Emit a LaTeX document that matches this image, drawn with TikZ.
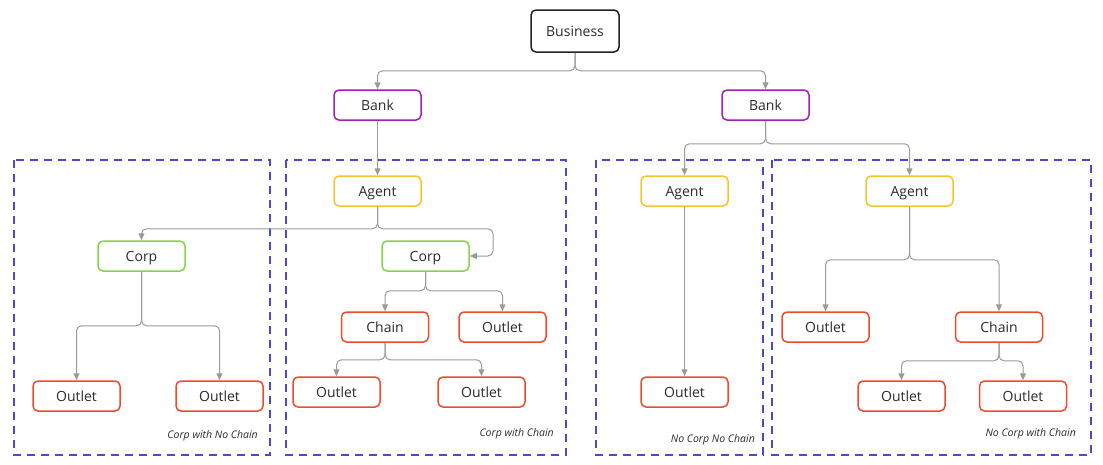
\documentclass[tikz,border=0pt]{standalone}
\usepackage{fontspec}
\setmainfont{Open Sans}
\usetikzlibrary{arrows.meta}
\definecolor{cBiz}{HTML}{222222}
\definecolor{cBank}{HTML}{A020B8}
\definecolor{cAgent}{HTML}{F5C42C}
\definecolor{cCorp}{HTML}{86D448}
\definecolor{cOut}{HTML}{EE4A2C}
\definecolor{cLine}{HTML}{9A9A9A}
\definecolor{cDash}{HTML}{4A4ACC}
\definecolor{cText}{HTML}{2A2A2A}
\tikzset{
  box/.style={draw, rounded corners=5pt, line width=1.5pt, minimum width=87pt, minimum height=30pt, inner sep=0pt, text=cText, font=\fontsize{14}{16}\selectfont, text height=10.5pt, text depth=0pt},
  bizbox/.style={box, draw=cBiz, minimum width=88pt, minimum height=42pt},
  bankbox/.style={box, draw=cBank},
  agentbox/.style={box, draw=cAgent},
  corpbox/.style={box, draw=cCorp},
  outbox/.style={box, draw=cOut},
  conn/.style={draw=cLine, line width=1pt, rounded corners=5pt, -{Triangle[length=7pt,width=6pt]}},
  group/.style={draw=cDash, line width=1.3pt, dash pattern=on 8pt off 6pt},
  grouplabel/.style={anchor=east, inner sep=0pt, text=cText, font=\itshape\fontsize{10.5}{12}\selectfont}
}
\begin{document}
\begin{tikzpicture}[x=1pt,y=-1pt]
\useasboundingbox (0,0) rectangle (1103,464);
% groups
\draw[group] (14,160) rectangle (270,455);
\draw[group] (286,160) rectangle (566,455);
\draw[group] (596,160) rectangle (763,455);
\draw[group] (772,160) rectangle (1091,455);
\node[grouplabel] (l1) at (258,436) {Corp with No Chain};
\node[grouplabel] (l2) at (554,434) {Corp with Chain};
\node[grouplabel] (l3) at (755,440) {No Corp No Chain};
\node[grouplabel] (l4) at (1076,434) {No Corp with Chain};
% nodes
\node[bizbox] (biz) at (575,31) {Business};
\node[bankbox] (bk1) at (377.5,105) {Bank};
\node[bankbox] (bk2) at (765.5,105) {Bank};
\node[agentbox] (ag2) at (377.5,191) {Agent};
\node[agentbox] (ag3) at (684.5,191) {Agent};
\node[agentbox] (ag4) at (909.5,191) {Agent};
\node[corpbox] (cp1) at (141.5,256) {Corp};
\node[corpbox] (cp2) at (425.5,256) {Corp};
\node[outbox] (o1a) at (76.5,396) {Outlet};
\node[outbox] (o1b) at (219.5,396) {Outlet};
\node[outbox] (ch2) at (385,327) {Chain};
\node[outbox] (o2a) at (502.5,327) {Outlet};
\node[outbox] (o2b) at (336.5,392) {Outlet};
\node[outbox] (o2c) at (481.5,392) {Outlet};
\node[outbox] (o3) at (684.5,392) {Outlet};
\node[outbox] (o4a) at (825.5,327) {Outlet};
\node[outbox] (ch4) at (999,327) {Chain};
\node[outbox] (o4b) at (901.5,396) {Outlet};
\node[outbox] (o4c) at (1023,396) {Outlet};
% connectors
\draw[conn] (biz.south) -- ++(0,18) -| (bk1.north);
\draw[conn] (biz.south) -- ++(0,18) -| (bk2.north);
\draw[conn] (bk1.south) -- (ag2.north);
\draw[conn] (bk2.south) -- ++(0,23) -| (ag3.north);
\draw[conn] (bk2.south) -- ++(0,23) -| (ag4.north);
\draw[conn] (ag2.south) -- ++(0,22) -| (cp1.north);
\draw[conn] (ag2.south) -- ++(0,22) -- ++(115.5,0) |- (cp2.east);
\draw[conn] (cp1.south) -- ++(0,54) -| (o1a.north);
\draw[conn] (cp1.south) -- ++(0,54) -| (o1b.north);
\draw[conn] (cp2.south) -- ++(0,19) -| (ch2.north);
\draw[conn] (cp2.south) -- ++(0,19) -| (o2a.north);
\draw[conn] (ch2.south) -- ++(0,17) -| (o2b.north);
\draw[conn] (ch2.south) -- ++(0,17) -| (o2c.north);
\draw[conn] (ag3.south) -- (o3.north);
\draw[conn] (ag4.south) -- ++(0,53) -| (o4a.north);
\draw[conn] (ag4.south) -- ++(0,53) -| (ch4.north);
\draw[conn] (ch4.south) -- ++(0,18) -| (o4b.north);
\draw[conn] (ch4.south) -- ++(0,18) -| (o4c.north);
\end{tikzpicture}
\end{document}
